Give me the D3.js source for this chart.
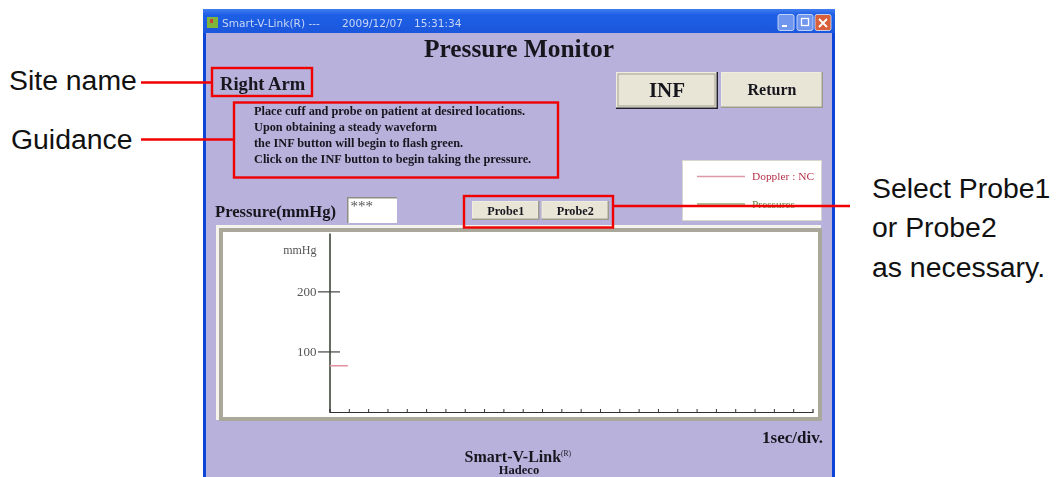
<!DOCTYPE html>
<html lang="en">
  <head>
    <meta charset="UTF-8" />
    <title>Pressure Monitor</title>
    <script src="https://d3js.org/d3.v7.min.js"></script>
    <style>
      html, body { margin: 0; padding: 0; background: #fff; overflow: hidden; }
      svg { display: block; }
      .ui { font-family: "Liberation Serif", serif; font-weight: bold; fill: #16161f; }
      .note { font-family: "Liberation Sans", Arial, sans-serif; fill: #111; font-size: 28.4px; }
    </style>
  </head>
  <body>
    <svg width="1057" height="477"></svg>

    <script>
      // Values
      const yTicks = [100, 200];
      const xDivisions = d3.range(1, 25);
      const dopplerTime = [0, 0.95];
      const dopplerValue = [77, 77];
      const guidanceLines = [
        "Place cuff and probe on patient at desired locations.",
        "Upon obtaining a steady waveform",
        "the INF button will begin to flash green.",
        "Click on the INF button to begin taking the pressure.",
      ];
      const probeNames = ["Probe1", "Probe2"];
      const legendNames = ["Doppler : NC", "Pressures"];
      const legendColors = ["#b5324a", "#5f8a3c"];
      const legendLineColors = ["#dc9aa6", "#93a878"];
      const titleParts = ["Smart-V-Link(R) ---", "2009/12/07", "15:31:34"];
      const titlePartX = [222, 342, 414];
      const selectNote = ["Select Probe1", "or Probe2", "as necessary."];

      const svg = d3.select("svg");
      const defs = svg.append("defs");

      const titleGrad = defs.append("linearGradient").attr("id", "titleGrad")
        .attr("x1", 0).attr("x2", 0).attr("y1", 0).attr("y2", 1);
      titleGrad.append("stop").attr("offset", "0%").attr("stop-color", "#3f7cf0");
      titleGrad.append("stop").attr("offset", "25%").attr("stop-color", "#1f5fe6");
      titleGrad.append("stop").attr("offset", "100%").attr("stop-color", "#1d57dc");

      defs.append("filter").attr("id", "soft")
        .append("feGaussianBlur").attr("stdDeviation", 0.55);

      const win = svg.append("g").attr("filter", "url(#soft)");

      function rect(parent, x, y, w, h, fill) {
        return parent.append("rect").attr("x", x).attr("y", y)
          .attr("width", w).attr("height", h).attr("fill", fill);
      }

      function label(parent, x, y, text, size, anchor) {
        return parent.append("text").attr("class", "ui").attr("x", x).attr("y", y)
          .attr("text-anchor", anchor || "start").style("font-size", size + "px").text(text);
      }

      // Raised grey button
      function button(x, y, w, h, text, size, pressed) {
        rect(win, x, y, w, h, pressed ? "#23232e" : "#9c9a8c");
        rect(win, x, y, w - 1.5, h - 1.5, "#efede0");
        rect(win, x + 1, y + 1, w - 3, h - 3, "#e8e5d6");
        if (pressed) {
          win.append("rect").attr("x", x + 2).attr("y", y + 2)
            .attr("width", w - 5).attr("height", h - 5)
            .attr("fill", "none").attr("stroke", "#a5a393").attr("stroke-width", 1);
        }
        label(win, x + w / 2, y + h / 2 + size * 0.33, text, size, "middle");
      }

      // Window frame
      rect(win, 203, 9, 632, 468, "#1044d8");
      rect(win, 203, 9, 632, 24, "url(#titleGrad)");
      rect(win, 206, 33, 626, 444, "#b8b1db");

      // Title bar
      rect(win, 207, 17, 11, 11, "#7fb53a");
      rect(win, 210, 19, 3, 4, "#c9423c");
      titleParts.forEach((t, i) => {
        win.append("text").attr("x", titlePartX[i]).attr("y", 26.5)
          .attr("fill", "#c8d6f6")
          .style("font-family", '"DejaVu Sans", sans-serif')
          .style("font-size", "10.6px")
          .text(t);
      });

      // Window buttons
      [[778, "#6f96ee"], [797, "#6f96ee"], [815, "#d8603a"]].forEach(([x, c]) => {
        win.append("rect").attr("x", x).attr("y", 14.5).attr("width", 16).attr("height", 16)
          .attr("rx", 2).attr("fill", c).attr("stroke", "#dfe8fb").attr("stroke-width", 0.8);
      });
      rect(win, 782, 25, 5, 2, "#fff");
      win.append("rect").attr("x", 801.5).attr("y", 18.5).attr("width", 7).attr("height", 7)
        .attr("fill", "none").attr("stroke", "#fff").attr("stroke-width", 1.3);
      win.append("path").attr("d", "M819,19L827,27M827,19L819,27")
        .attr("stroke", "#fff").attr("stroke-width", 1.8);

      label(win, 519, 57, "Pressure Monitor", 25.4, "middle");
      label(win, 220, 89.5, "Right Arm", 18.6);
      guidanceLines.forEach((line, i) => {
        label(win, 254, 115 + i * 15.9, line, 12.3);
      });
      label(win, 215, 216.5, "Pressure(mmHg)", 16.6);

      // Pressure readout
      rect(win, 347, 197, 50, 26, "#fff");
      rect(win, 347, 197, 50, 1.5, "#8f8d84");
      rect(win, 347, 197, 1.5, 26, "#8f8d84");
      win.append("text").attr("x", 350.5).attr("y", 211).attr("fill", "#555")
        .style("font-family", '"Liberation Serif", serif')
        .style("font-size", "15px").text("***");

      button(616, 72, 102, 37, "INF", 21, true);
      button(721, 72, 102, 36, "Return", 16, false);
      probeNames.forEach((name, i) => {
        button(472 + i * 69.5, 201, 67.5, 19, name, 12.2, false);
      });

      // Legend box
      rect(win, 682, 160, 140, 61, "#fff");
      win.append("rect").attr("x", 682.5).attr("y", 160.5).attr("width", 139).attr("height", 60)
        .attr("fill", "none").attr("stroke", "#d9d7cb");
      legendNames.forEach((name, i) => {
        const y = 176.5 + i * 27.5;
        win.append("line").attr("x1", 697).attr("x2", 745).attr("y1", y).attr("y2", y)
          .attr("stroke", legendLineColors[i]).attr("stroke-width", 1.3);
        win.append("text").attr("x", 752).attr("y", y + 3.5)
          .attr("fill", legendColors[i])
          .style("font-family", '"Liberation Serif", serif')
          .style("font-size", "11.4px").text(name);
      });

      // Plot panel: light top-left edge, grey bevel, white plot area
      rect(win, 216, 225, 605, 195, "#f4f3ec");
      rect(win, 219, 228, 603, 193, "#a9a89a");
      rect(win, 223, 232, 595, 185, "#fff");

      const x = d3.scaleLinear().domain([0, 25]).range([329.5, 812.5]);
      const y = d3.scaleLinear().domain([0, 298]).range([412, 233]);

      const axisColor = "#2f3d2c";
      const yAxisG = win.append("g").attr("transform", `translate(${x(0)},0)`);
      yAxisG.call(d3.axisLeft(y).tickValues([]).tickSize(0));
      yAxisG.select(".domain").attr("stroke", axisColor).attr("stroke-width", 1.5);

      const xAxisG = win.append("g").attr("transform", `translate(0,${y(0)})`);
      xAxisG.call(d3.axisTop(x).tickValues(xDivisions).tickSize(3).tickFormat(""));
      xAxisG.select(".domain").attr("stroke", "#333").attr("stroke-width", 1.2);
      xAxisG.selectAll("line").attr("stroke", "#333");

      // y ticks cross the axis line
      yTicks.forEach((v) => {
        win.append("line")
          .attr("x1", x(0) - 11.5).attr("x2", x(0) + 10.5)
          .attr("y1", y(v)).attr("y2", y(v))
          .attr("stroke", "#444").attr("stroke-width", 1.2);
        win.append("text").attr("x", x(0) - 13).attr("y", y(v) + 4.5)
          .attr("text-anchor", "end").attr("fill", "#555")
          .style("font-family", '"Liberation Serif", serif')
          .style("font-size", "13px").text(v);
      });
      win.append("text").attr("x", x(0) - 13).attr("y", 253.5)
        .attr("text-anchor", "end").attr("fill", "#555")
        .style("font-family", '"Liberation Serif", serif')
        .style("font-size", "12px").text("mmHg");

      // Doppler trace
      const line = d3.line().x((d) => x(d[0])).y((d) => y(d[1]));
      win.append("path")
        .datum(dopplerTime.map((t, i) => [t, dopplerValue[i]]))
        .attr("d", line).attr("fill", "none")
        .attr("stroke", "#e0909e").attr("stroke-width", 1.5);

      label(win, 823, 442.5, "1sec/div.", 17, "end");
      const brand = label(win, 464.5, 462, "Smart-V-Link", 16);
      brand.append("tspan").attr("dy", -6).style("font-size", "7.5px").style("font-weight", "normal").text("(R)");
      label(win, 519, 474, "Hadeco", 12.5, "middle");

      // Red callouts on top of the screenshot
      const red = "#f00000";
      const callouts = svg.append("g").attr("fill", "none").attr("stroke", red).attr("stroke-width", 2.4);
      callouts.append("rect").attr("x", 212).attr("y", 68).attr("width", 100).attr("height", 28);
      callouts.append("rect").attr("x", 234).attr("y", 102.5).attr("width", 324).attr("height", 75);
      callouts.append("rect").attr("x", 464).attr("y", 196).attr("width", 149).attr("height", 31.5);
      callouts.append("path").attr("d", "M141,82.5H212");
      callouts.append("path").attr("d", "M141,139.5H234");
      callouts.append("path").attr("d", "M613,206H850");

      const notes = svg.append("g");
      notes.append("text").attr("class", "note").attr("x", 9).attr("y", 90).text("Site name");
      notes.append("text").attr("class", "note").attr("x", 11).attr("y", 148.5).text("Guidance");
      selectNote.forEach((t, i) => {
        notes.append("text").attr("class", "note").attr("x", 872).attr("y", 197.5 + i * 39.5).text(t);
      });
    </script>
  </body>
</html>
